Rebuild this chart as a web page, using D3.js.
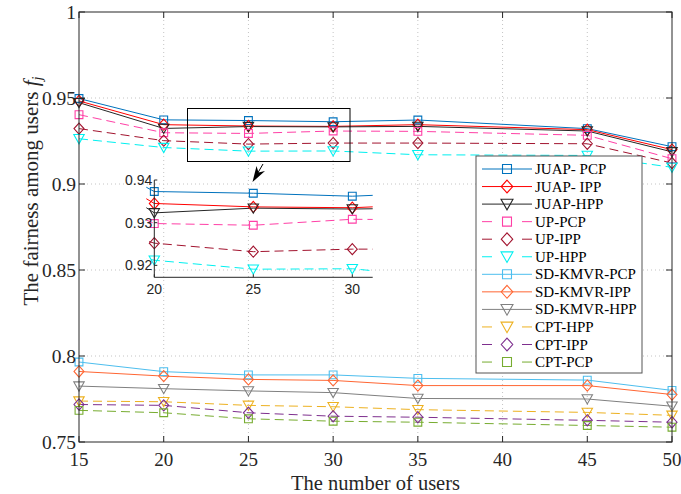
<!DOCTYPE html>
<html><head><meta charset="utf-8">
<script src="https://cdn.jsdelivr.net/npm/d3@7"></script>
<style>
html,body{margin:0;padding:0;background:#fff;}
svg{display:block;}
</style></head>
<body>
<svg id="chart" width="681" height="494"></svg>
<script>
// ---------------- data ----------------
const users = [15, 20, 25, 30, 35, 45, 50];
const xTicks = [15, 20, 25, 30, 35, 40, 45, 50];
const yTicks = [0.75, 0.8, 0.85, 0.9, 0.95, 1];
const yTickLabels = ["0.75", "0.8", "0.85", "0.9", "0.95", "1"];
const insetXTicks = [20, 25, 30];
const insetYTicks = [0.92, 0.93, 0.94];
const insetYTickLabels = ["0.92", "0.93", "0.94"];

const seriesNames = ["JUAP- PCP", "JUAP- IPP", "JUAP-HPP", "UP-PCP", "UP-IPP", "UP-HPP",
  "SD-KMVR-PCP", "SD-KMVR-IPP", "SD-KMVR-HPP", "CPT-HPP", "CPT-IPP", "CPT-PCP"];
const juapPCP = [0.9497, 0.9373, 0.9369, 0.9362, 0.9372, 0.9322, 0.9217];
const juapIPP = [0.9483, 0.9345, 0.9337, 0.9335, 0.9345, 0.9316, 0.9200];
const juapHPP = [0.9473, 0.9323, 0.9334, 0.9332, 0.9335, 0.9308, 0.9187];
const upPCP   = [0.9403, 0.9298, 0.9294, 0.9308, 0.9306, 0.9283, 0.9147];
const upIPP   = [0.9322, 0.9252, 0.9232, 0.9238, 0.9238, 0.9234, 0.9122];
const upHPP   = [0.9263, 0.9212, 0.9191, 0.9192, 0.9170, 0.9166, 0.9097];
const sdPCP   = [0.7965, 0.7909, 0.7890, 0.7890, 0.7870, 0.7860, 0.7800];
const sdIPP   = [0.7910, 0.7883, 0.7864, 0.7858, 0.7828, 0.7828, 0.7776];
const sdHPP   = [0.7825, 0.7810, 0.7797, 0.7787, 0.7753, 0.7750, 0.7708];
const cptHPP  = [0.7738, 0.7734, 0.7713, 0.7705, 0.7688, 0.7672, 0.7655];
const cptIPP  = [0.7718, 0.7713, 0.7670, 0.7650, 0.7644, 0.7626, 0.7615];
const cptPCP  = [0.7684, 0.7670, 0.7635, 0.7621, 0.7615, 0.7596, 0.7586];
const seriesValues = [juapPCP, juapIPP, juapHPP, upPCP, upIPP, upHPP, sdPCP, sdIPP, sdHPP, cptHPP, cptIPP, cptPCP];

// ---------------- styles ----------------
const colors = ["#0072BD", "#FF0000", "#262626", "#FF3FA6", "#A2142F", "#00F0F0",
  "#4DBEEE", "#FF6633", "#808080", "#EDB120", "#7E2F8E", "#77AC30"];
const markers = ["square", "diamond", "tri", "square", "diamond", "tri",
  "square", "diamond", "tri", "tri", "diamond", "square"];
const dashed = [false, false, false, true, true, true, false, false, false, true, true, true];

const series = seriesNames.map((n, i) => ({
  name: n, color: colors[i], marker: markers[i], dashed: dashed[i],
  points: users.map((u, j) => ({x: u, y: seriesValues[i][j]}))
}));

const svg = d3.select("#chart");
const serif = "'Liberation Serif','Times New Roman',serif";
const sans = "'Liberation Sans',Arial,sans-serif";
const axisColor = "#262626";

const L = 79, R = 672, T = 12, B = 442;
const x = d3.scaleLinear().domain([15, 50]).range([L, R]);
const y = d3.scaleLinear().domain([0.75, 1]).range([B, T]);

function markerPath(type, cx, cy, s) {
  s = s || 1;
  if (type === "square") { const h = 3.9 * s; return `M${cx-h},${cy-h}H${cx+h}V${cy+h}H${cx-h}Z`; }
  if (type === "diamond") { const w = 5 * s, h = 5.6 * s; return `M${cx},${cy-h}L${cx+w},${cy}L${cx},${cy+h}L${cx-w},${cy}Z`; }
  const w = 5.2 * s; return `M${cx-w},${cy-4.2*s}L${cx+w},${cy-4.2*s}L${cx},${cy+5*s}Z`;
}

// grid
const grid = svg.append("g");
xTicks.slice(1, -1).forEach(t => grid.append("line").attr("x1", x(t)).attr("x2", x(t)).attr("y1", T).attr("y2", B)
  .attr("stroke", "#c4c4c4").attr("stroke-width", 1).attr("stroke-dasharray", "1,3"));
yTicks.slice(1, -1).forEach(t => grid.append("line").attr("x1", L).attr("x2", R).attr("y1", y(t)).attr("y2", y(t))
  .attr("stroke", "#c4c4c4").attr("stroke-width", 1).attr("stroke-dasharray", "1,3"));

// series
function drawSeries(g, xs, ys, sizeScale) {
  const ln = d3.line().x(d => xs(d.x)).y(d => ys(d.y));
  series.forEach(s => {
    g.append("path").attr("d", ln(s.points)).attr("fill", "none").attr("stroke", s.color)
      .attr("stroke-width", 1).attr("stroke-dasharray", s.dashed ? "9,5" : null);
  });
  series.forEach(s => {
    s.points.forEach(p => {
      g.append("path").attr("d", markerPath(s.marker, xs(p.x), ys(p.y), sizeScale))
        .attr("fill", "none").attr("stroke", s.color).attr("stroke-width", 1.1);
    });
  });
}
drawSeries(svg.append("g"), x, y, 1);

// axes box
const ax = svg.append("g");
ax.append("rect").attr("x", L).attr("y", T).attr("width", R - L).attr("height", B - T)
  .attr("fill", "none").attr("stroke", axisColor).attr("stroke-width", 1);
xTicks.forEach(t => {
  ax.append("line").attr("x1", x(t)).attr("x2", x(t)).attr("y1", B).attr("y2", B - 6).attr("stroke", axisColor);
  ax.append("line").attr("x1", x(t)).attr("x2", x(t)).attr("y1", T).attr("y2", T + 6).attr("stroke", axisColor);
  ax.append("text").attr("x", x(t)).attr("y", 466).attr("text-anchor", "middle")
    .attr("font-family", serif).attr("font-size", 19).attr("fill", axisColor).text(t);
});
yTicks.forEach((t, i) => {
  ax.append("line").attr("x1", L).attr("x2", L + 6).attr("y1", y(t)).attr("y2", y(t)).attr("stroke", axisColor);
  ax.append("line").attr("x1", R).attr("x2", R - 6).attr("y1", y(t)).attr("y2", y(t)).attr("stroke", axisColor);
  ax.append("text").attr("x", 76).attr("y", y(t) + 6.5).attr("text-anchor", "end")
    .attr("font-family", serif).attr("font-size", 19.5).attr("fill", axisColor).text(yTickLabels[i]);
});
ax.append("text").attr("x", (L + R) / 2).attr("y", 490).attr("text-anchor", "middle")
  .attr("font-family", serif).attr("font-size", 20.5).attr("fill", axisColor).text("The number of users");
const yl = ax.append("text").attr("transform", `translate(38,${(T + B) / 2 - 36}) rotate(-90)`)
  .attr("text-anchor", "middle").attr("font-family", serif).attr("font-size", 21).attr("fill", axisColor);
yl.append("tspan").text("The fairness among users ");
yl.append("tspan").attr("font-style", "italic").text("f");
yl.append("tspan").attr("font-style", "italic").attr("font-size", 14).attr("dy", 4).text("j");

// zoom rectangle in main axes
svg.append("rect").attr("x", 187.5).attr("y", 108.5).attr("width", 162.5).attr("height", 53)
  .attr("fill", "none").attr("stroke", "#000").attr("stroke-width", 1);

// arrow
svg.append("line").attr("x1", 263).attr("y1", 164).attr("x2", 256).attr("y2", 176).attr("stroke", "#000").attr("stroke-width", 1);
svg.append("path").attr("d", "M252.5,182L256.5,166L258.5,172.5L265,171Z").attr("fill", "#000");

// inset axes
const iL = 154.3, iR = 372.7, iT = 180, iB = 277.3;
const xi = d3.scaleLinear().domain([20, 31.03]).range([iL, iR]);
const yi = d3.scaleLinear().domain([0.9172, 0.94]).range([iB, iT]);
const clip = svg.append("defs").append("clipPath").attr("id", "insetClip");
clip.append("rect").attr("x", iL - 8).attr("y", iT - 8).attr("width", iR - iL + 8).attr("height", iB - iT + 16);
const inset = svg.append("g").attr("clip-path", "url(#insetClip)");
drawSeries(inset, xi, yi, 1);
const iax = svg.append("g");
iax.append("line").attr("x1", iL).attr("x2", iL).attr("y1", iT).attr("y2", iB).attr("stroke", axisColor);
iax.append("line").attr("x1", iL).attr("x2", iR).attr("y1", iB).attr("y2", iB).attr("stroke", axisColor);
insetXTicks.forEach(t => {
  iax.append("line").attr("x1", xi(t)).attr("x2", xi(t)).attr("y1", iB).attr("y2", iB - 3).attr("stroke", axisColor);
  iax.append("text").attr("x", xi(t)).attr("y", iB + 17).attr("text-anchor", "middle")
    .attr("font-family", sans).attr("font-size", 14).attr("fill", axisColor).text(t);
});
insetYTicks.forEach((t, i) => {
  iax.append("line").attr("x1", iL).attr("x2", iL + 3).attr("y1", yi(t)).attr("y2", yi(t)).attr("stroke", axisColor);
  iax.append("text").attr("x", iL - 2).attr("y", yi(t) + 5).attr("text-anchor", "end")
    .attr("font-family", sans).attr("font-size", 14).attr("fill", axisColor).text(insetYTickLabels[i]);
});

// legend
const lg = svg.append("g");
lg.append("rect").attr("x", 476).attr("y", 156).attr("width", 166).attr("height", 217)
  .attr("fill", "#fff").attr("stroke", "#555").attr("stroke-width", 1);
series.forEach((s, i) => {
  const cy = 169 + i * 17.55;
  if (s.dashed) {
    lg.append("line").attr("x1", 482).attr("x2", 492).attr("y1", cy).attr("y2", cy).attr("stroke", s.color);
    lg.append("line").attr("x1", 522).attr("x2", 532).attr("y1", cy).attr("y2", cy).attr("stroke", s.color);
  } else {
    lg.append("line").attr("x1", 482).attr("x2", 532).attr("y1", cy).attr("y2", cy).attr("stroke", s.color);
  }
  lg.append("path").attr("d", markerPath(s.marker, 507, cy, 1.15)).attr("fill", "none").attr("stroke", s.color).attr("stroke-width", 1.1);
  lg.append("text").attr("x", 535).attr("y", cy + 5).attr("font-family", serif).attr("font-size", 15)
    .attr("fill", "#000").text(s.name);
});
</script>
</body></html>
